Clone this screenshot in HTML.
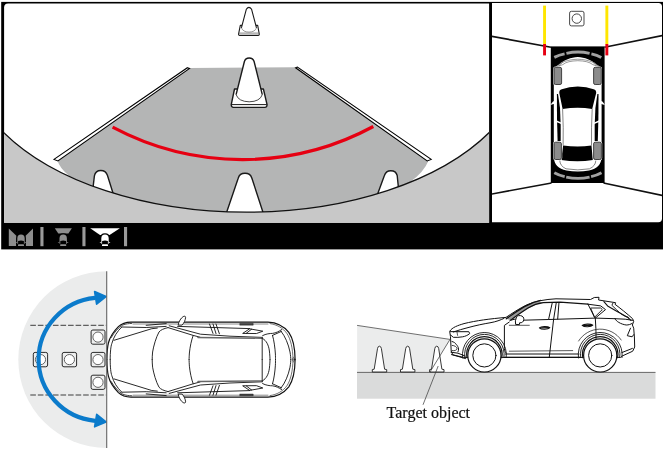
<!DOCTYPE html>
<html>
<head>
<meta charset="utf-8">
<title>Front camera view</title>
<style>
html,body{margin:0;padding:0;background:#fff;}
body{width:666px;height:450px;overflow:hidden;font-family:"Liberation Serif",serif;}
svg{display:block;position:absolute;left:0;top:0;will-change:transform;}
text{font-family:"Liberation Serif",serif;}
</style>
</head>
<body>
<svg width="666" height="450" viewBox="0 0 666 450">
<defs>
  <clipPath id="mainclip"><path d="M4.1,222.7 L4.1,7.6 A4,4 0 0 1 8.1,3.6 L489.1,3.6 L489.1,222.7 Z"/></clipPath>
  <clipPath id="sideclip"><path d="M492,2.9 L658.4,2.9 A3.6,3.6 0 0 1 662,6.5 L662,218.6 A3.6,3.6 0 0 1 658.4,222.2 L492,222.2 Z"/></clipPath>
</defs>
<rect x="0" y="0" width="666" height="450" fill="#fff"/>

<!-- ================= TOP FRAME ================= -->
<rect x="1.2" y="1.9" width="661.8" height="247.5" fill="#000"/>
<!-- main camera panel -->
<path d="M4.1,222.7 L4.1,7.6 A4,4 0 0 1 8.1,3.6 L489.1,3.6 L489.1,222.7 Z" fill="#fff"/>
<g clip-path="url(#mainclip)">
  <!-- road -->
  <path d="M189,68 L296.5,67.2 L428.6,160.4 Q424,172 410,182 L410,216 L69,216 L69.1,175.8 Q59.5,168 57.6,160.8 Z" fill="#b4b5b5"/>
  <!-- lane lines -->
  <path d="M187.4,67.7 L189.6,68.5 L57.9,161 L54,159.4 Z" fill="#fff" stroke="#000" stroke-width="1.05" stroke-linejoin="miter"/>
  <path d="M297.4,67.1 L295.6,67.8 L427.2,161 L431.2,159.4 Z" fill="#fff" stroke="#000" stroke-width="1.05" stroke-linejoin="miter"/>
  <!-- red guide arc -->
  <path d="M112.6,127.2 A276,276 0 0 0 373.3,126.5" fill="none" stroke="#e60012" stroke-width="3.2"/>
  <!-- small far cone -->
  <g fill="#fff" stroke="#1a1a1a" stroke-width="1.1" stroke-linejoin="round">
    <path d="M240.3,25.4 L238.5,34.3 Q238.6,35.4 239.6,35.4 L258.2,35.4 Q259.3,35.4 259.3,34.3 L257.7,25.4 Z"/>
    <path d="M238.8,33.1 L259.1,33.1" stroke="#777" stroke-width="0.9"/>
    <path d="M246.3,9.3 Q248.9,5.4 251.6,9.3 L256.5,27.8 Q255,32 249,32.1 Q243,32 241.4,27.8 Z" stroke="none"/>
    <path d="M241.4,27.8 L246.3,9.3 Q248.9,5.4 251.6,9.3 L256.5,27.8" fill="none"/>
    <path d="M256.5,27.8 Q255,32 249,32.1 Q243,32 241.4,27.8" fill="none" stroke-width="0.6" stroke="#555"/>
  </g>
  <!-- big cone -->
  <g fill="#fff" stroke="#1a1a1a" stroke-width="1.4" stroke-linejoin="round">
    <path d="M234.5,89 L231.3,104.4 Q231.2,107.4 233.5,107.4 L264.8,107.4 Q267.2,107.4 267,104.4 L263.4,89 Z"/>
    <path d="M231.6,104.6 L266.8,104.6" stroke-width="1"/>
    <path d="M244.4,61.5 Q245.4,58 249.2,58 Q253,58 254.1,61.5 L262.3,94.6 Q260,101.6 249.2,101.8 Q238.5,101.6 236.1,94.6 Z" stroke="none"/>
    <path d="M236.1,94.6 L244.4,61.5 Q245.4,58 249.2,58 Q253,58 254.1,61.5 L262.3,94.6" fill="none"/>
    <path d="M262.3,94.6 Q260,101.6 249.2,101.8 Q238.5,101.6 236.1,94.6" fill="none" stroke-width="0.8"/>
  </g>
  <!-- near cones (cut by bumper) -->
  <g fill="#fff" stroke="#1a1a1a" stroke-width="1.4" stroke-linejoin="round">
    <path d="M91.5,200.3 L94.4,175.8 Q95.5,170.5 100.8,170.5 Q105.8,170.5 107.4,175.3 L116.5,204.3 Z"/>
    <path d="M224,220 L238.2,178.2 Q239.6,173.3 245,173.3 Q250.4,173.3 251.9,178.2 L265.5,220 Z"/>
    <path d="M374.5,202.5 L384.4,175.5 Q386,170.7 390.8,170.7 Q396,170.7 397.2,175.5 L399.5,198.5 Z"/>
  </g>
  <!-- bumper region -->
  <path d="M3,131.8 A280,158.8 0 0 0 490,131.8 L490,224 L3,224 Z" fill="#c8c8c8" stroke="#111" stroke-width="1.3"/>
</g>

<!-- right bird-eye panel -->
<path d="M492,2.9 L658.4,2.9 A3.6,3.6 0 0 1 662,6.5 L662,218.6 A3.6,3.6 0 0 1 658.4,222.2 L492,222.2 Z" fill="#fff"/>
<g clip-path="url(#sideclip)">
  <!-- perspective lines -->
  <g stroke="#111" stroke-width="1.6" fill="none">
    <path d="M491,36.2 L551,47.2"/>
    <path d="M604.5,47.2 L663,35.4"/>
    <path d="M491,194.2 L551.5,183"/>
    <path d="M603.5,183 L663,195.6"/>
  </g>
  <!-- black box -->
  <rect x="550.8" y="46.4" width="53.8" height="136.6" fill="#000"/>

  <!-- bird-eye car -->
  <g>
    <!-- sensor arcs -->
    <g fill="none" stroke="#a2a2a2" stroke-width="2.9">
      <path d="M554.3,57.4 Q559,55 564.6,53.9"/>
      <path d="M566.4,53.3 Q578,50.8 589.6,53.3"/>
      <path d="M591.4,53.9 Q597,55 601.3,57.6"/>
      <path d="M554.3,172.8 Q559,175.4 564.7,176.7"/>
      <path d="M566.2,177.2 Q578,179.6 589.6,177.2"/>
      <path d="M591.1,176.7 Q597,175.4 601.5,172.8"/>
    </g>
    <!-- body -->
    <path d="M553.8,72 C554,68 556,66 559,64.4 C564,60.5 571,57.2 577.8,57.1 C584.6,57.2 591.6,60.5 596.6,64.4 C599.6,66 601.6,68 601.6,72 L601.6,157 C601.4,164.5 597,169 589,170.6 Q577.8,172.4 566.5,170.6 C558.5,169 554,164.5 553.8,157 Z" fill="#fff"/>
    <!-- hood / headlight lines -->
    <g fill="none" stroke="#444" stroke-width="0.55">
      <path d="M556.6,66.8 C560,62.6 567,59.6 577.8,59.2 C588.6,59.6 595.6,62.6 599,66.8"/>
      <path d="M562.8,64.6 C566,61.9 571,60.9 577.8,60.7 C584.5,60.9 589.5,61.9 592.8,64.6"/>
      <path d="M556.6,66.8 L562.8,64.6 M599,66.8 L592.8,64.6"/>
      <path d="M559,65.8 L562.6,62.4 M596.6,65.8 L593,62.4" stroke-width="0.45"/>
    </g>
    <!-- side windows -->
    <path d="M556.9,94 L558,94 L560,108 L560.7,125 L560.7,141 L557.6,141 L557,118 Z" fill="#000"/>
    <path d="M598.5,94 L597.4,94 L595.4,108 L594.7,125 L594.7,141 L597.8,141 L598.4,118 Z" fill="#000"/>
    <path d="M556,121 L561.4,123.4 M599.4,121 L594,123.4" stroke="#fff" stroke-width="1.4" fill="none"/>
    <!-- windshield -->
    <path d="M559.3,93 Q559,90 561.8,89.2 Q569,86.6 577.8,86.4 Q586.5,86.6 593.7,89.2 Q596.4,90 596.2,93 L592.2,108.9 Q577.8,106.4 562.6,108.9 Z" fill="#000"/>
    <!-- rear window -->
    <path d="M563.1,145.5 Q577.8,147.6 591.5,145.5 L592.8,159.9 Q577.8,162.6 561.2,159.9 Z" fill="#000"/>
    <!-- roof lines -->
    <g fill="none" stroke="#333" stroke-width="0.6">
      <path d="M562.6,109 Q563.6,128 563.1,145.5"/>
      <path d="M592.2,109 Q591.2,128 591.5,145.5"/>
      <path d="M559.8,160.5 Q560,166 566,168.8 Q577.8,171 589.5,168.8 Q595.6,166 595.8,160.5"/>
    </g>
    <!-- mirrors -->
    <path d="M550.3,104.9 L553,101.4 L555.7,100.6 L555.3,103.4 Z" fill="#fff"/>
    <path d="M605.1,104.9 L602.4,101.4 L599.7,100.6 L600.1,103.4 Z" fill="#fff"/>
    <!-- wheels -->
    <g fill="#fff">
      <rect x="553.2" y="66.5" width="9.2" height="18.8" rx="2.2"/>
      <rect x="592.8" y="66.5" width="9.2" height="18.8" rx="2.2"/>
      <rect x="553.2" y="141.4" width="9" height="18.9" rx="2.2"/>
      <rect x="592.8" y="141.4" width="9.4" height="18.9" rx="2.2"/>
    </g>
    <g fill="#8c8c8c" stroke="#222" stroke-width="0.8">
      <rect x="554" y="67.3" width="7.6" height="17.2" rx="1.6"/>
      <rect x="593.6" y="67.3" width="7.7" height="17.2" rx="1.6"/>
      <rect x="554" y="142.2" width="7.4" height="17.3" rx="1.6"/>
      <rect x="593.6" y="142.2" width="7.8" height="17.3" rx="1.6"/>
    </g>
  </g>
  <!-- yellow/red lines -->
  <rect x="543.1" y="5.6" width="2.9" height="38.6" fill="#ffe600"/>
  <rect x="543.1" y="44" width="2.9" height="11.4" fill="#e60012"/>
  <rect x="605.4" y="5.6" width="2.9" height="38.6" fill="#ffe600"/>
  <rect x="605.4" y="44" width="2.9" height="11.4" fill="#e60012"/>
  <!-- target object -->
  <rect x="569.6" y="11.3" width="14.4" height="14.6" rx="1.8" ry="1.8" fill="#fff" stroke="#333" stroke-width="0.9"/>
  <circle cx="576.8" cy="18.6" r="4.7" fill="#fff" stroke="#333" stroke-width="0.9"/>
</g>

<!-- bottom icon bar -->
<g>
  <!-- icon 1 -->
  <path d="M8.8,228.4 L16.6,236 L16.6,246 L8.8,246 Z" fill="#8e8e8e"/>
  <path d="M33,228.4 L25.4,236 L25.4,246 L33,246 Z" fill="#8e8e8e"/>
  <!-- icon 2 -->
  <path d="M54.8,228.2 L71.9,228.2 L68.4,233.6 L58.3,233.6 Z" fill="#8e8e8e"/>
  <!-- icon 3 -->
  <path d="M90.2,228.2 L119.9,228.2 L109.6,235 L100,235 Z" fill="#fff"/>
  <g transform="translate(21,0)">
    <path d="M-4.9,246.6 L-4.9,238.4 Q-4.9,233.2 0,233.2 Q4.9,233.2 4.9,238.4 L4.9,246.6 Z" fill="#000"/>
    <path d="M-3.7,243.8 L-3.7,238.4 Q-3.7,234.4 0,234.4 Q3.7,234.4 3.7,238.4 L3.7,243.8 Z" fill="#8e8e8e"/>
    <path d="M-2.9,243.9 L-2.9,241.1 Q0,239.7 2.9,241.1 L2.9,243.9 Z" fill="#000"/>
    <rect x="-3" y="244.3" width="6" height="1.8" rx="0.4" fill="#8e8e8e"/>
    <path d="M-5.6,243 L-3.9,242 L-3.9,243 Z M5.6,243 L3.9,242 L3.9,243 Z" fill="#8e8e8e"/>
  </g>
  <g transform="translate(63.2,0)">
    <path d="M-4.9,246.6 L-4.9,238.4 Q-4.9,233.2 0,233.2 Q4.9,233.2 4.9,238.4 L4.9,246.6 Z" fill="#000"/>
    <path d="M-3.7,243.8 L-3.7,238.4 Q-3.7,234.4 0,234.4 Q3.7,234.4 3.7,238.4 L3.7,243.8 Z" fill="#8e8e8e"/>
    <path d="M-2.9,243.9 L-2.9,241.1 Q0,239.7 2.9,241.1 L2.9,243.9 Z" fill="#000"/>
    <rect x="-3" y="244.3" width="6" height="1.8" rx="0.4" fill="#8e8e8e"/>
    <path d="M-5.6,243 L-3.9,242 L-3.9,243 Z M5.6,243 L3.9,242 L3.9,243 Z" fill="#8e8e8e"/>
  </g>
  <g transform="translate(105,0)">
    <path d="M-4.9,246.6 L-4.9,238.4 Q-4.9,233.2 0,233.2 Q4.9,233.2 4.9,238.4 L4.9,246.6 Z" fill="#000"/>
    <path d="M-3.7,243.8 L-3.7,238.4 Q-3.7,234.4 0,234.4 Q3.7,234.4 3.7,238.4 L3.7,243.8 Z" fill="#fff"/>
    <path d="M-2.9,243.9 L-2.9,241.1 Q0,239.7 2.9,241.1 L2.9,243.9 Z" fill="#000"/>
    <rect x="-3" y="244.3" width="6" height="1.8" rx="0.4" fill="#fff"/>
    <path d="M-5.6,243 L-3.9,242 L-3.9,243 Z M5.6,243 L3.9,242 L3.9,243 Z" fill="#fff"/>
  </g>
  <!-- separators -->
  <rect x="40.4" y="227" width="3.1" height="19.2" fill="#9a9a9a"/>
  <rect x="82.4" y="227" width="3.1" height="19.2" fill="#9a9a9a"/>
  <rect x="124" y="227" width="3.1" height="19.2" fill="#9a9a9a"/>
</g>

<!-- ================= BOTTOM LEFT ================= -->
<g>
  <path d="M106.7,271.2 A88.4,88.4 0 0 0 106.7,448 Z" fill="#ebecec"/>
  <g stroke="#333" stroke-width="0.95" stroke-dasharray="5.6,1.95" fill="none">
    <path d="M30.3,325.3 L106.2,325.3"/>
    <path d="M30.3,395 L106.2,395"/>
  </g>
  <!-- target squares -->
  <g fill="#eeefef" stroke="#2a2a2a" stroke-width="1">
    <rect x="33.3" y="352.4" width="14.3" height="14.4" rx="1.8"/>
    <rect x="62.2" y="352.4" width="14.4" height="14.4" rx="1.8"/>
    <rect x="91.1" y="330" width="13.9" height="14.2" rx="1.8"/>
    <rect x="91.1" y="352.4" width="13.9" height="14.4" rx="1.8"/>
    <rect x="91.1" y="375.2" width="13.9" height="14.2" rx="1.8"/>
  </g>
  <g fill="#fff" stroke="#555" stroke-width="0.9">
    <circle cx="40.5" cy="359.6" r="5.1"/>
    <circle cx="69.4" cy="359.6" r="5.1"/>
    <circle cx="98" cy="337.1" r="5.1"/>
    <circle cx="98" cy="359.6" r="5.1"/>
    <circle cx="98" cy="382.3" r="5.1"/>
  </g>

  <!-- top view car -->
  <g fill="none" stroke="#111" stroke-width="0.9" stroke-linecap="round" stroke-linejoin="round">
    <path d="M106.9,359.6 C107,352 107.6,346 108.4,343 C110,336.6 113.6,331.4 118.4,326.6 C121.6,323.6 125.4,322.2 131,322.1 L268,322.1 C277,322.4 284,326.4 288.8,332.4 C293,338.4 295,348 295.1,359.6 C295,371.2 293,380.8 288.8,386.8 C284,392.8 277,396.8 268,397.1 L131,397.1 C125.4,397 121.6,395.6 118.4,392.6 C113.6,387.8 110,382.6 108.4,376.2 C107.6,373.2 107,367.2 106.9,359.6 Z" fill="#fff" stroke="none"/>
    <g>
    <path d="M106.9,359.6 C107,352 107.6,346 108.4,343 C110,336.6 113.6,331.4 118.4,326.6 C121.6,323.6 125.4,322.2 131,322.1 L268,322.1 C277,322.4 284,326.4 288.8,332.4 C293,338.4 295,348 295.1,359.6" stroke-width="1.2"/>
    <path d="M110.2,359.6 C110.2,352 110.8,346.4 111.8,343.6 C113.6,337 117,331.6 121.6,327.2"/>
    <path d="M111.2,337.6 C114.4,332 118.4,327.6 122.8,325 C125.8,323.8 128.6,323.6 131.8,323.4" stroke-width="0.9" stroke="#333"/>
    <path d="M114,340.3 L151.8,328.7 L157.3,328.1"/>
    <path d="M121.8,327 L146.2,327.5 L166.2,326.4"/>
    <path d="M133,324 L268,324" stroke-width="0.5"/>
    <path d="M146.2,325.3 L166.2,323.6"/>
    <!-- windshield base -->
    <path d="M168,327.6 C163.6,328.6 160.6,330 159,332 C156,337.4 153.6,346 152.6,352 C152.3,355 152.2,357.6 152.2,359.6"/>
    <!-- a pillar -->
    <path d="M168,327.6 L193.2,335.4 L200,337.2"/>
    <path d="M169.2,325.8 L200.5,334.2 L230,336.2 L262.4,337.4" />
    <!-- roof front -->
    <path d="M193.2,335.4 C191.4,340 190,347 189.4,353 C189.2,356 189.1,358 189.1,359.6"/>
    <!-- roof rail -->
    <path d="M198,337.6 L262.2,338.2" stroke="#666" stroke-width="1.5"/>
    <path d="M262.2,337.8 L262.2,359.6"/>
    <!-- mirror -->
    <path d="M178.2,324.8 C178.8,321.6 180.8,318 183.2,316.6 C184.6,315.9 185.6,316.2 185.6,317.4 C185.4,320 184.2,322.8 182.4,324.8 Z" fill="#fff"/>
    <!-- side window lines -->
    <path d="M177.6,326.4 L230,328 L249.6,328.6"/>
    <path d="M209.5,324 L213,333.4 M213,324 L216,333.6 M216,324 L219.4,333.8"/>
    <path d="M240,323.4 L253.2,323.4 L253.2,325.2 L240,325.2 Z" fill="#444" stroke-width="0.4"/>
    <!-- quarter window -->
    <path d="M243,333.2 L249.6,328.8 L262.8,331.2 L256.8,333.4 Z"/>
    <path d="M246.4,333.2 L251.6,329.2"/>
    <!-- rear window -->
    <path d="M262.6,335.6 C266,333.8 270,333.4 272.5,333.4 C276,333 279,331.4 281.6,329.6"/>
    <path d="M262.8,338.6 C266.4,340.6 268.6,345 269.4,351 C269.8,355 270,357.6 270,359.6"/>
    <path d="M272.5,335.4 C274,340 275,348 275.4,354 C275.5,356.6 275.5,358 275.5,359.6"/>
    <path d="M272.5,335.4 L281.4,331.4"/>
    <path d="M281,331.2 C285,336 288.4,344 290,352 C290.6,355.6 290.8,358 290.8,359.6"/>
    <path d="M270,323.6 C277,324.6 283,328 287,333.6 C290.6,339 292.8,348 293,359.6" stroke-width="0.6"/>
    </g>
    <g transform="translate(0,719.2) scale(1,-1)">
    <path d="M106.9,359.6 C107,352 107.6,346 108.4,343 C110,336.6 113.6,331.4 118.4,326.6 C121.6,323.6 125.4,322.2 131,322.1 L268,322.1 C277,322.4 284,326.4 288.8,332.4 C293,338.4 295,348 295.1,359.6" stroke-width="1.2"/>
    <path d="M110.2,359.6 C110.2,352 110.8,346.4 111.8,343.6 C113.6,337 117,331.6 121.6,327.2"/>
    <path d="M111.2,337.6 C114.4,332 118.4,327.6 122.8,325 C125.8,323.8 128.6,323.6 131.8,323.4" stroke-width="0.9" stroke="#333"/>
    <path d="M114,340.3 L151.8,328.7 L157.3,328.1"/>
    <path d="M121.8,327 L146.2,327.5 L166.2,326.4"/>
    <path d="M133,324 L268,324" stroke-width="0.5"/>
    <path d="M146.2,325.3 L166.2,323.6"/>
    <!-- windshield base -->
    <path d="M168,327.6 C163.6,328.6 160.6,330 159,332 C156,337.4 153.6,346 152.6,352 C152.3,355 152.2,357.6 152.2,359.6"/>
    <!-- a pillar -->
    <path d="M168,327.6 L193.2,335.4 L200,337.2"/>
    <path d="M169.2,325.8 L200.5,334.2 L230,336.2 L262.4,337.4" />
    <!-- roof front -->
    <path d="M193.2,335.4 C191.4,340 190,347 189.4,353 C189.2,356 189.1,358 189.1,359.6"/>
    <!-- roof rail -->
    <path d="M198,337.6 L262.2,338.2" stroke="#666" stroke-width="1.5"/>
    <path d="M262.2,337.8 L262.2,359.6"/>
    <!-- mirror -->
    <path d="M178.2,324.8 C178.8,321.6 180.8,318 183.2,316.6 C184.6,315.9 185.6,316.2 185.6,317.4 C185.4,320 184.2,322.8 182.4,324.8 Z" fill="#fff"/>
    <!-- side window lines -->
    <path d="M177.6,326.4 L230,328 L249.6,328.6"/>
    <path d="M209.5,324 L213,333.4 M213,324 L216,333.6 M216,324 L219.4,333.8"/>
    <path d="M240,323.4 L253.2,323.4 L253.2,325.2 L240,325.2 Z" fill="#444" stroke-width="0.4"/>
    <!-- quarter window -->
    <path d="M243,333.2 L249.6,328.8 L262.8,331.2 L256.8,333.4 Z"/>
    <path d="M246.4,333.2 L251.6,329.2"/>
    <!-- rear window -->
    <path d="M262.6,335.6 C266,333.8 270,333.4 272.5,333.4 C276,333 279,331.4 281.6,329.6"/>
    <path d="M262.8,338.6 C266.4,340.6 268.6,345 269.4,351 C269.8,355 270,357.6 270,359.6"/>
    <path d="M272.5,335.4 C274,340 275,348 275.4,354 C275.5,356.6 275.5,358 275.5,359.6"/>
    <path d="M272.5,335.4 L281.4,331.4"/>
    <path d="M281,331.2 C285,336 288.4,344 290,352 C290.6,355.6 290.8,358 290.8,359.6"/>
    <path d="M270,323.6 C277,324.6 283,328 287,333.6 C290.6,339 292.8,348 293,359.6" stroke-width="0.6"/>
    </g>
    <ellipse cx="293.6" cy="359.6" rx="0.9" ry="2.2" stroke-width="0.5"/>
  </g>
  <!-- blue arc arrow -->
  <path d="M95.1,297.8 A62.7,61.8 0 0 0 95.1,420.8" fill="none" stroke="#0b7bcb" stroke-width="4.2"/>
  <path d="M106,296.6 L94.6,291.6 L96.6,304.2 Z" fill="#0b7bcb" stroke="#0b7bcb" stroke-width="1.6" stroke-linejoin="round"/>
  <path d="M106,421.9 L94.6,426.8 L96.7,414.4 Z" fill="#0b7bcb" stroke="#0b7bcb" stroke-width="1.6" stroke-linejoin="round"/>
</g>
  <path d="M106.7,271.2 L106.7,448" stroke="#666" stroke-width="1.1" fill="none"/>

<!-- ================= BOTTOM RIGHT ================= -->
<g>
  <!-- fov -->
  <path d="M357.1,325.4 L450,339.4 L430,372.2 L357.1,372.2 Z" fill="#ebecec"/>
  <!-- ground -->
  <rect x="357" y="372.2" width="298.5" height="26.5" fill="#dadbdb"/>
  <path d="M357,372.4 L655.5,372.4" stroke="#5a5a5a" stroke-width="0.9" fill="none"/>

  <!-- side view car -->
  <g fill="none" stroke="#111" stroke-width="1" stroke-linecap="round" stroke-linejoin="round">
    <!-- body silhouette -->
    <path fill="#fff" d="M449.9,331 C452,327.4 458,325.4 464,323.6 C476,320.6 490,318.8 506,317.4 C512,313.4 519,308.6 527,304.8 C535,301.2 545,299.4 556,298.8 L590.5,299.5 L594.3,297.5 L599,297.3 L598.6,300 L615.6,302.7 L615,304.3 C620,308 627,313.6 632.6,318.7 L633.7,321.3 L632.4,325 L633.7,328.2 L634.4,337 L634.7,347 L632.7,351.2 L621.8,356.2 L620.6,357.4 L463.5,357.4 L452.8,354.8 L451.2,351 L450.5,337 Z"/>
    <!-- hood crease -->
    <path d="M453.3,332 C458,330.2 463,329 468,327.6 C476,325.4 484,323.8 490,322.8 C496,321.8 500.6,320 504,318.4"/>
    <!-- headlight -->
    <path d="M450.5,331.6 L458,331.7 L468.8,331.7 L469.7,333.6 C467.6,335.4 465,336.4 462.7,336.8 C459.6,337.4 456,337.5 453.3,337.3 L450.6,335"/>
    <path d="M457,332 L457.6,335.4" stroke-width="0.7"/>
    <!-- grille & lower intake -->
    <path d="M452,341.5 C454,342 455.4,343 456.1,344.3 C457.6,345.8 458.4,347.4 458.5,349 C458.6,350 458.4,351 458,351.8"/>
    <path d="M452.2,345.4 C454.6,345.4 456.8,347 457,348.6 C456.8,350.4 454.6,351 452.2,350.6" stroke-width="0.8"/>
    <path d="M451,352.2 L458,353.2 L465,356"/>
    <path d="M451.5,354.6 L458,356.4 L465.5,358.6"/>
    <!-- a-pillar / windows -->
    <path d="M507,319 C512,315 518,310.6 524,307 C529,304 534,302 538,301 L543,302.8 C539,303.6 535.4,304.8 531,307 C525,310.2 517,315.6 511,320.2 Z" fill="#999" stroke="none"/>
    <path d="M506.3,318.8 C512,314.6 518,310.4 524.4,306.6 C530,303.4 535,301.4 540.5,300.3" stroke-width="1.3"/>
    <path d="M510.8,320.1 C516,316 522.5,311.6 528,308 C533,305 538,303.2 543.2,302.6 L560,302.2 L588,304.2" stroke-width="1.2"/>
    <path d="M523,320.2 L548.6,319.5 L595.3,318.1 L615,318.7"/>
    <path d="M552.3,302.6 L548.6,319.4 M556.3,302.4 L553.6,319.4 M559,302.4 L557.7,319"/>
    <path d="M553.6,319.4 L549.3,357"/>
    <path d="M588,304.2 L600.7,305.9 L605.5,309.6 L595.3,318.1"/>
    <path d="M588,304.2 L594.6,317.4"/>
    <path d="M591,308 L600.7,308 L602.3,309.6 L594.8,317 Z" stroke-width="0.9"/>
    <path d="M595.3,318.1 L595.9,328.8 C596,333 596,336 596,338.4"/>
    <!-- rear window / tail -->
    <path d="M603.9,301.6 L607.6,305.9 C610.6,307.6 614,309.6 616.7,311.2 C620.6,313.4 624,315.2 627.3,317 L631,320.3" stroke-width="1.1"/>
    <path d="M612.9,303.2 L611.9,305.3 C615,308 618,311.4 621,313.9 C623.6,315.6 626,316.8 628.4,317.6" stroke-width="0.9"/>
    <path d="M615,318.7 C616,320.4 617.2,321.6 618.8,322.4 C621,323.8 623.6,324.6 626.2,325 C628.6,325 630.6,324.4 632.1,323.4"/>
    <path d="M615,318.7 L625.2,319.2 L632.6,320.3"/>
    <path d="M630.5,328.2 L627.3,335.7 L632.1,336.8 L633.7,334.6"/>
    <path d="M621.8,352.6 L632.4,348.4"/>
    <!-- mirror -->
    <path fill="#fff" d="M516.2,318 C516.2,316 518,315.4 520.4,315.6 C523,316 524,317.6 523.8,319.6 C523.6,321.8 522,323 519.6,322.8 L519.4,324.6 L515.6,324.4 L515.4,321.2 Z"/>
    <path d="M510,320.4 L515.4,319"/>
    <!-- front door -->
    <path d="M509.3,322 L504.4,325.4 L504.4,348.7 C504.6,351 505.2,352.2 506,353"/>
    <path d="M509.3,325.3 L529.3,325.3" stroke-width="0.7"/>
    <!-- handles -->
    <path fill="#fff" stroke-width="1.1" d="M539.4,327.8 C541,326.2 547.6,326 549.8,327.6 C548,329.6 541.4,329.8 539.4,327.8 Z"/><path d="M540.4,327.9 L548.8,327.7" stroke-width="1.2"/>
    <path fill="#fff" stroke-width="1.1" d="M582.2,325.4 C584,323.8 590.6,323.6 592.8,325.2 C591,327.2 584.2,327.4 582.2,325.4 Z"/><path d="M583.4,325.5 L591.8,325.3" stroke-width="1.2"/>
    <!-- sill -->
    <path d="M509.3,351.2 L572.7,350.6" stroke-width="0.7"/>
    <path d="M505.4,354 L579,354"/>
    <path d="M504.6,357.4 L580,357.4" stroke-width="1.2"/>
    <!-- wheel arches -->
    <path d="M467.0,357.6 A17.7,17.7 0 1 1 501.8,357.6" stroke-width="1.2"/>
    <path d="M464.9,357.6 A19.8,19.8 0 1 1 503.9,357.6" stroke-width="0.9"/>
    <path d="M462.7,358 A22,22 0 1 1 506.2,357.6" stroke-width="0.9"/>
    <path d="M582.8,357.6 A17.7,17.7 0 1 1 617.6,357.6" stroke-width="1.2"/>
    <path d="M580.7,357.6 A19.8,19.8 0 1 1 619.7,357.6" stroke-width="0.9"/>
    <path d="M578.5,358 A22,22 0 1 1 622.0,357.6" stroke-width="0.9"/>
    <path d="M578.6,341 A25.4,25.4 0 0 1 621.2,340" stroke-width="0.7"/>
    <!-- wheels -->
    <circle cx="484.4" cy="355.4" r="16.6" fill="#fff" stroke-width="1.2"/>
    <circle cx="484.4" cy="355.4" r="11.6" fill="#fff"/>
    <circle cx="600.2" cy="355.4" r="16.6" fill="#fff" stroke-width="1.2"/>
    <circle cx="600.2" cy="355.4" r="11.6" fill="#fff"/>
  </g>
  <!-- cones -->
  <g fill="#fff" stroke="#222" stroke-width="0.9" stroke-linejoin="round">
    <path d="M372.3,372 L372.3,369.6 L374.2,369.2 L377.5,348.6 Q377.9,346.2 379.4,346.2 Q381,346.2 381.4,348.6 L384.6,369.2 L386.7,369.6 L386.7,372 Z"/>
    <path transform="translate(28.2,0)" d="M372.3,372 L372.3,369.6 L374.2,369.2 L377.5,348.6 Q377.9,346.2 379.4,346.2 Q381,346.2 381.4,348.6 L384.6,369.2 L386.7,369.6 L386.7,372 Z"/>
    <path transform="translate(57.3,0)" d="M372.3,372 L372.3,369.6 L374.2,369.2 L377.5,348.6 Q377.9,346.2 379.4,346.2 Q381,346.2 381.4,348.6 L384.6,369.2 L386.7,369.6 L386.7,372 Z"/>
  </g>
  <path d="M357.1,325.4 L450,339.4 L430,372" fill="none" stroke="#333" stroke-width="0.7"/>
  <path d="M438.2,366 L423,404.8" stroke="#333" stroke-width="0.7" fill="none"/>
  <text x="386.6" y="417.5" font-size="16" fill="#111" stroke="#111" stroke-width="0.2">Target object</text>
</g>
</svg>
</body>
</html>
